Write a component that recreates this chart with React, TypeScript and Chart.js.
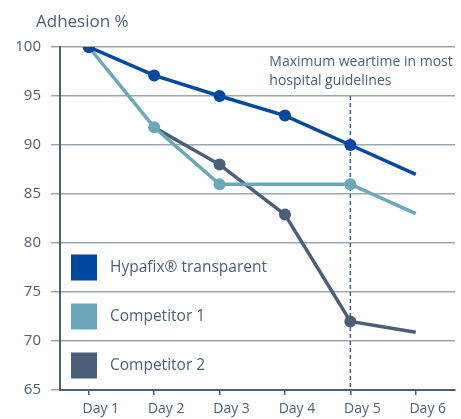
import React, { useEffect, useRef } from "react";
import { Chart, registerables } from "chart.js";

Chart.register(...registerables);

const days = ["Day 1", "Day 2", "Day 3", "Day 4", "Day 5", "Day 6"];
const hypafix = [100, 97.1, 95, 93, 90, 87];
const competitor1 = [100, 91.8, 86, 86, 86, 83];
const competitor2 = [null, 91.8, 88, 82.9, 72, 70.9];
const seriesNames = ["Hypafix® transparent", "Competitor 1", "Competitor 2"];
const legendLevels = [77.5, 72.5, 67.5];
const yTicks = [65, 70, 75, 80, 85, 90, 95, 100];
const guidelineDay = 5;
const guidelineTop = 95;
const guidelineText = ["Maximum weartime in most", "hospital guidelines"];
const yTitle = "Adhesion %";

const COLORS = ["#0048a0", "#6aa7bb", "#4a5f78"];
const TEXT = "#4d6078";
const GRID = "#9ca6b2";
const AXIS = "#4a5f78";
const FONT = "'Open Sans', sans-serif";

const toPoints = (arr: (number | null)[]) => arr.map((y, i) => ({ x: i + 1, y }));

export default function App() {
  const ref = useRef<HTMLCanvasElement | null>(null);
  useEffect(() => {
    if (!ref.current) return;
    const overlay = {
      id: "overlay",
      beforeDatasetsDraw(chart: any) {
        const { ctx, scales } = chart;
        const x = scales.x.getPixelForValue(guidelineDay);
        ctx.save();
        ctx.strokeStyle = AXIS;
        ctx.lineWidth = 1.5;
        ctx.setLineDash([4, 3]);
        ctx.beginPath();
        ctx.moveTo(x, scales.y.getPixelForValue(guidelineTop));
        ctx.lineTo(x, scales.y.getPixelForValue(65));
        ctx.stroke();
        ctx.restore();
      },
      afterDraw(chart: any) {
        const { ctx, scales } = chart;
        ctx.save();
        ctx.fillStyle = TEXT;
        ctx.textBaseline = "middle";
        ctx.textAlign = "left";
        ctx.font = `17px ${FONT}`;
        ctx.fillText(yTitle, 36, 22);
        ctx.font = `14px ${FONT}`;
        const gx = scales.x.getPixelForValue(guidelineDay) - 81;
        ctx.fillText(guidelineText[0], gx, 62);
        ctx.fillText(guidelineText[1], gx, 81);
        ctx.font = `15.5px ${FONT}`;
        seriesNames.forEach((name, i) => {
          const cy = scales.y.getPixelForValue(legendLevels[i]);
          ctx.fillStyle = COLORS[i];
          ctx.fillRect(71, cy - 13, 26, 26);
          ctx.fillStyle = TEXT;
          ctx.fillText(name, 110, cy);
        });
        ctx.restore();
      },
    };
    const chart = new Chart(ref.current, {
      type: "line",
      data: {
        datasets: [
          {
            label: seriesNames[2],
            data: toPoints(competitor2),
            borderColor: COLORS[2],
            backgroundColor: COLORS[2],
            borderWidth: 3.5,
            pointRadius: [0, 0, 6, 6, 6, 0],
            pointBorderWidth: 0,
            order: 3,
          },
          {
            label: seriesNames[1],
            data: toPoints(competitor1),
            borderColor: COLORS[1],
            backgroundColor: COLORS[1],
            borderWidth: 3.5,
            pointRadius: [6, 6, 6, 0, 6, 0],
            pointBorderWidth: 0,
            order: 2,
          },
          {
            label: seriesNames[0],
            data: toPoints(hypafix),
            borderColor: COLORS[0],
            backgroundColor: COLORS[0],
            borderWidth: 3.5,
            pointRadius: [6, 6, 6, 6, 6, 0],
            pointBorderWidth: 0,
            order: 1,
          },
        ],
      },
      options: {
        animation: false,
        responsive: true,
        maintainAspectRatio: false,
        layout: { padding: { top: 47, right: 0, left: 0, bottom: 0 } },
        plugins: { legend: { display: false }, tooltip: { enabled: false }, title: { display: false } },
        scales: {
          x: {
            type: "linear",
            min: 0.56,
            max: 6.6,
            afterBuildTicks: (s: any) => {
              s.ticks = days.map((_, i) => ({ value: i + 1 }));
            },
            afterFit: (s: any) => {
              s.height = 29;
              s.paddingLeft = 0;
              s.paddingRight = 0;
            },
            grid: { drawOnChartArea: false, drawTicks: true, tickLength: 5, color: AXIS, lineWidth: 1.5 },
            border: { color: AXIS, width: 2 },
            ticks: {
              callback: (v: any) => days[Math.round(v) - 1],
              color: TEXT,
              font: { family: FONT, size: 14 },
              padding: 6,
              labelOffset: 12,
              maxRotation: 0,
              autoSkip: false,
            },
          },
          y: {
            min: 65,
            max: 100,
            afterBuildTicks: (s: any) => {
              s.ticks = yTicks.map((v) => ({ value: v }));
            },
            afterFit: (s: any) => {
              s.width = 60;
            },
            grid: { color: GRID, lineWidth: 1.5, tickLength: 9 },
            border: { color: AXIS, width: 2 },
            ticks: { color: TEXT, font: { family: FONT, size: 15 }, padding: 10 },
          },
        },
      },
      plugins: [overlay],
    });
    return () => chart.destroy();
  }, []);
  return (
    <div style={{ position: "fixed", left: 0, top: 0, width: 461, height: 419 }}>
      <canvas ref={ref} />
    </div>
  );
}
